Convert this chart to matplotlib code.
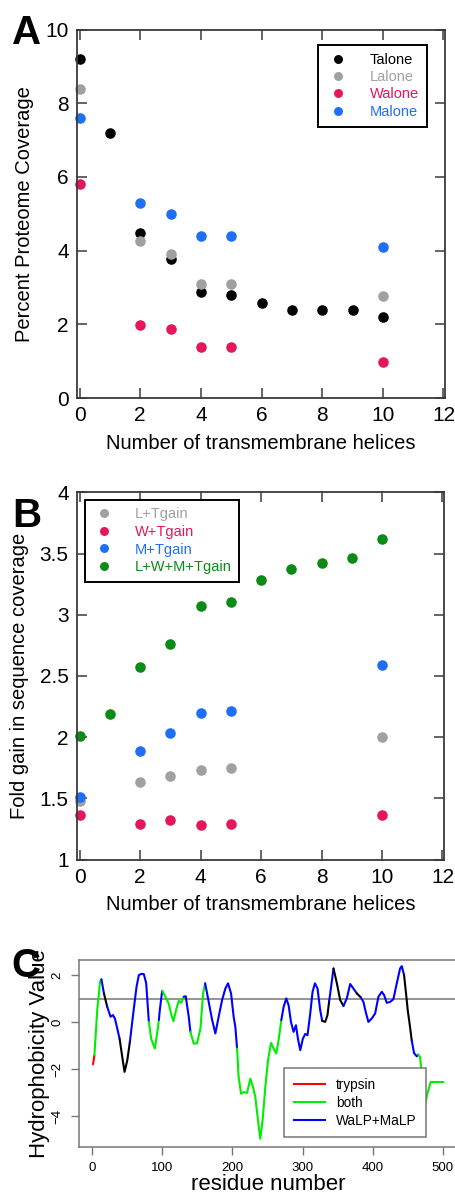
import matplotlib
matplotlib.use("Agg")
import matplotlib.pyplot as plt
from matplotlib.lines import Line2D

plt.rcParams['font.family'] = ['Liberation Sans', 'DejaVu Sans']

# ---------------- Data ----------------
# Panel A
a_x_T = [0, 1, 2, 3, 4, 5, 6, 7, 8, 9, 10]
a_T = [9.19, 7.2, 4.49, 3.76, 2.88, 2.79, 2.59, 2.39, 2.39, 2.39, 2.21]
a_x_LWM = [0, 2, 3, 4, 5, 10]
a_L = [8.39, 4.27, 3.91, 3.1, 3.1, 2.78]
a_W = [5.8, 1.98, 1.88, 1.39, 1.39, 0.98]
a_M = [7.59, 5.28, 4.99, 4.39, 4.39, 4.09]

# Panel B
b_x_LWM = [0, 2, 3, 4, 5, 10]
b_L = [1.48, 1.63, 1.68, 1.73, 1.75, 2.0]
b_W = [1.36, 1.29, 1.32, 1.28, 1.29, 1.36]
b_M = [1.51, 1.89, 2.03, 2.2, 2.21, 2.59]
b_x_all = [0, 1, 2, 3, 4, 5, 6, 7, 8, 9, 10]
b_all = [2.01, 2.19, 2.57, 2.76, 3.07, 3.10, 3.28, 3.37, 3.42, 3.46, 3.62]

# Panel C (residue, hydrophobicity, coverage of the segment that starts at the point)
c_res = [1, 3, 7, 11, 13, 16.6, 21.3, 26, 29.4, 32.2, 35.6, 38.9, 42.7, 46, 49.9,
         53.6, 58.4, 63.1, 66.4, 70, 73.5, 76.9, 80.7, 84, 89.2, 93.5, 95, 96.3,
         99.7, 104.4, 109, 112.3, 115.8, 120.1, 123.4, 126.8, 130.5, 133.3, 137.6,
         140, 144.7, 149.4, 154.3, 158.1, 161, 164.7, 171, 175.6, 180.3, 185.2,
         189.9, 193.7, 198, 201.7, 204.1, 206.6, 208.8, 212.3, 216.1, 220.8, 225.5,
         229.3, 232.6, 235.9, 239.7, 243, 246.9, 250.7, 255, 258.7, 262.5, 265.8,
         269.7, 273, 276.8, 280.1, 283.5, 287.2, 290.6, 293.4, 296.7, 300.5, 303.8,
         307.1, 311, 314.3, 317.7, 321.4, 325.2, 328, 332.3, 335.6, 338, 339.5,
         344.2, 349, 353.7, 358.4, 363.2, 368, 372.6, 377.5, 383.2, 386.9, 390.7,
         394, 398.9, 403.6, 408.3, 413.1, 416.4, 420.2, 424.9, 429.6, 434.5, 439.2,
         441.6, 444.9, 447.7, 450.1, 453.4, 455.8, 459.1, 463, 465.2, 467.7, 471,
         474.8, 478.1, 482.9, 500.9]
c_hyd = [-1.79, -1.40, 0.51, 1.72, 1.82, 1.22, 0.65, 0.23, 0.30, 0.16, -0.27, -0.70,
         -1.47, -2.11, -1.62, -0.84, 0.37, 1.50, 2.00, 2.05, 2.04, 1.65, 0.01, -0.70,
         -1.12, -0.27, 0.10, 0.51, 1.33, 1.08, 0.79, 0.37, 0.04, 0.58, 0.91, 0.82,
         1.08, 1.10, 0.23, -0.41, -0.91, -0.90, -0.27, 1.22, 1.65, 1.08, 0.09, -0.48,
         0.23, 0.94, 1.43, 1.65, 1.22, 0.23, -0.20, -1.12, -2.33, -3.04, -2.97, -3.00,
         -2.40, -2.75, -3.18, -4.03, -4.95, -4.17, -2.75, -1.62, -0.88, -1.12, -1.33,
         -0.77, 0.09, 0.65, 1.01, 0.72, 0.01, -0.41, -0.13, -0.70, -1.19, -0.70,
         -0.50, -0.55, 0.37, 1.29, 1.65, 1.43, 0.51, 0.06, 0.01, 0.30, 0.90, 1.22,
         2.28, 1.65, 0.94, 0.69, 1.01, 1.62, 1.43, 1.22, 1.05, 0.86, 0.37, 0.01,
         0.16, 0.37, 1.08, 1.29, 1.15, 0.82, 0.86, 0.97, 1.65, 2.28, 2.38, 2.00,
         1.22, 0.51, -0.20, -0.77, -1.31, -1.45, -1.38, -1.48, -2.47, -3.53, -3.04,
         -2.54, -2.54]
c_cov = (['trypsin'] + ['both'] * 3 + ['walp'] + ['none'] + ['walp'] * 5 + ['none'] * 4
         + ['walp'] * 7 + ['both'] * 4 + ['walp'] * 2 + ['both'] * 8 + ['walp'] * 3
         + ['both'] * 5 + ['walp'] * 11 + ['both'] * 17 + ['walp'] * 17 + ['none'] * 3
         + ['walp'] * 2 + ['none'] * 3 + ['walp'] * 4 + ['none'] + ['walp'] * 15
         + ['none'] * 4 + ['walp'] * 3 + ['both'] * 7)
c_threshold = 1.0

cov_colors = {'trypsin': '#ff0000', 'both': '#00ee00', 'walp': '#0000ff', 'none': '#000000'}

col_T = '#000000'
col_L = '#a0a0a0'
col_W = '#e3175a'
col_M = '#1e6ff5'
col_G = '#0b8a16'

W, H = 456, 1196
fig = plt.figure(figsize=(W / 100, H / 100), dpi=100)

def frac(l, t, r, b):
    return [l / W, 1 - b / H, (r - l) / W, (b - t) / H]

spine_col = '#3a3a3a'
MS = 7.6
FS_TICK = 15
FS_LAB = 14.5

def style_ab(ax):
    for s in ax.spines.values():
        s.set_color(spine_col)
        s.set_linewidth(1.3)
    ax.tick_params(direction='in', top=True, right=True, length=7, width=1.1,
                   color=spine_col, labelsize=FS_TICK, pad=6)
    ax.set_xlim(-0.085, 12.05)
    ax.set_xticks([0, 2, 4, 6, 8, 10, 12])
    ax.set_xlabel('Number of transmembrane helices', fontsize=FS_LAB, labelpad=6)

# ---------------- Panel A ----------------
axA = fig.add_axes(frac(77, 29.5, 445, 398))
for xs, ys, c, lab in [(a_x_T, a_T, col_T, 'Talone'), (a_x_LWM, a_L, col_L, 'Lalone'),
                       (a_x_LWM, a_W, col_W, 'Walone'), (a_x_LWM, a_M, col_M, 'Malone')]:
    axA.plot(xs, ys, 'o', color=c, ms=MS, mew=0, label=lab, clip_on=False)
style_ab(axA)
axA.set_ylim(0, 10)
axA.set_yticks([0, 2, 4, 6, 8, 10])
axA.set_ylabel('Percent Proteome Coverage', fontsize=FS_LAB, labelpad=8)
legA = axA.legend(loc='upper left', bbox_to_anchor=(0.655, 0.958), fontsize=10.5,
                  frameon=True, fancybox=False, edgecolor='#000000', framealpha=1,
                  labelcolor=[col_T, col_L, col_W, col_M], handletextpad=1.4,
                  borderpad=0.55, labelspacing=0.22, borderaxespad=0, markerscale=0.85,
                  handlelength=1.6)
legA.get_frame().set_linewidth(1.4)

# ---------------- Panel B ----------------
axB = fig.add_axes(frac(77, 492.3, 444, 859.5))
for xs, ys, c, lab in [(b_x_LWM, b_L, col_L, 'L+Tgain'), (b_x_LWM, b_W, col_W, 'W+Tgain'),
                       (b_x_LWM, b_M, col_M, 'M+Tgain'), (b_x_all, b_all, col_G, 'L+W+M+Tgain')]:
    axB.plot(xs, ys, 'o', color=c, ms=MS, mew=0, label=lab, clip_on=False)
style_ab(axB)
axB.set_ylim(1, 4)
axB.set_yticks([1, 1.5, 2, 2.5, 3, 3.5, 4])
axB.set_yticklabels(['1', '1.5', '2', '2.5', '3', '3.5', '4'])
axB.set_ylabel('Fold gain in sequence coverage', fontsize=FS_LAB, labelpad=8)
legB = axB.legend(loc='upper left', bbox_to_anchor=(0.022, 0.979), fontsize=10.5,
                  frameon=True, fancybox=False, edgecolor='#000000', framealpha=1,
                  labelcolor=[col_L, col_W, col_M, col_G], handletextpad=1.3,
                  borderpad=0.5, labelspacing=0.25, borderaxespad=0, markerscale=0.85,
                  handlelength=1.6)
legB.get_frame().set_linewidth(1.4)

# ---------------- Panel C ----------------
axC = fig.add_axes(frac(79, 960, 456.7, 1147))
axC.axhline(c_threshold, color='#777777', lw=1.1, zorder=1)
# draw contiguous coloured runs
start = 0
n = len(c_res)
for i in range(1, n):
    if i == n - 1 or c_cov[i] != c_cov[start]:
        axC.plot(c_res[start:i + 1], c_hyd[start:i + 1], color=cov_colors[c_cov[start]],
                 lw=1.5, solid_capstyle='round', solid_joinstyle='round', zorder=2)
        start = i
axC.set_xlim(-19, 520)
axC.set_ylim(-5.3, 2.64)
axC.set_xticks([0, 100, 200, 300, 400, 500])
axC.set_yticks([-4, -2, 0, 2])
for s in axC.spines.values():
    s.set_color('#777777')
    s.set_linewidth(1.1)
axC.tick_params(direction='out', length=6, width=1, color='#777777', labelsize=9.5, pad=5)
for lab in axC.get_yticklabels():
    lab.set_rotation(90)
    lab.set_va('center')
axC.set_xlabel('residue number', fontsize=16, labelpad=0)
axC.set_ylabel('Hydrophobicity Value', fontsize=16, labelpad=1)
handles = [Line2D([], [], color=cov_colors['trypsin'], lw=1.5),
           Line2D([], [], color=cov_colors['both'], lw=1.5),
           Line2D([], [], color=cov_colors['walp'], lw=1.5)]
legC = axC.legend(handles, ['trypsin', 'both', 'WaLP+MaLP'], loc='upper left',
                  bbox_to_anchor=(0.543, 0.422), fontsize=9.8, frameon=True, fancybox=False,
                  edgecolor='#777777', framealpha=1, handlelength=2.3, handletextpad=0.8,
                  borderpad=0.7, labelspacing=0.3, borderaxespad=0)
legC.get_frame().set_linewidth(1.1)

# panel letters
for txt, x, y in [('A', 12, 44), ('B', 12, 527), ('C', 11, 977)]:
    fig.text(x / W, 1 - y / H, txt, fontsize=29, fontweight='bold', ha='left', va='baseline')

fig.savefig('out.png', dpi=100)
